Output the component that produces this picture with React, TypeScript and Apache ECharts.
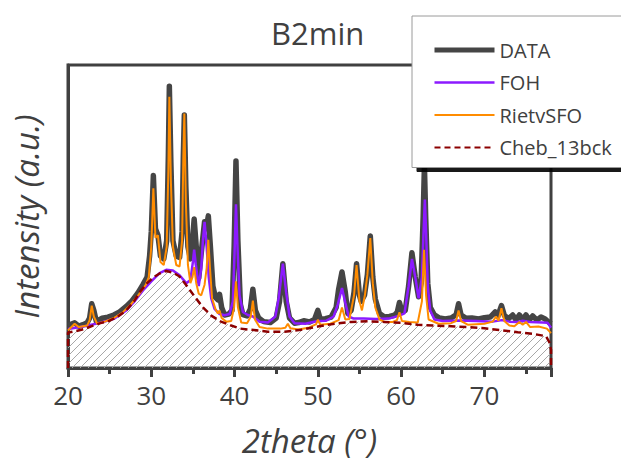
import React, { useEffect, useRef } from "react";
import * as echarts from "echarts";

// ---- Data (2theta in degrees, intensity in arbitrary units 0-100) ----
const dataX = [20.0, 20.5, 20.8, 21.3, 21.8, 22.3, 22.6, 22.85, 23.1, 23.4, 24.1, 24.8, 25.5, 26.2, 27.0, 27.7, 28.4, 29.0, 29.5, 29.8, 30.0, 30.25, 30.5, 30.8, 31.1, 31.5, 31.85, 32.05, 32.17, 32.35, 32.6, 33.0, 33.4, 33.7, 33.85, 33.97, 34.15, 34.4, 34.7, 34.95, 35.15, 35.4, 35.7, 36.0, 36.4, 36.6, 36.85, 37.1, 37.4, 37.7, 38.0, 38.2, 38.45, 38.8, 39.3, 39.7, 39.95, 40.17, 40.4, 40.7, 41.0, 41.5, 41.9, 42.2, 42.5, 42.9, 43.5, 44.3, 45.0, 45.4, 45.8, 46.2, 46.6, 47.2, 47.7, 48.3, 49.0, 49.6, 50.0, 50.3, 50.9, 51.6, 52.2, 52.5, 52.9, 53.3, 53.6, 54.0, 54.35, 54.65, 55.0, 55.2, 55.6, 55.95, 56.3, 56.6, 56.9, 57.4, 58.0, 58.6, 59.2, 59.55, 59.8, 60.1, 60.5, 60.9, 61.3, 61.7, 62.1, 62.4, 62.65, 62.8, 62.95, 63.2, 63.5, 64.0, 64.6, 65.3, 66.0, 66.6, 66.9, 67.2, 67.8, 68.5, 69.3, 70.0, 70.7, 71.3, 71.6, 72.05, 72.4, 72.9, 73.4, 73.8, 74.2, 74.6, 75.0, 75.4, 75.8, 76.3, 76.8, 77.3, 77.7, 78.0];
const dataY = [14.0, 14.6, 14.9, 13.8, 14.3, 14.9, 16.5, 21.2, 19.0, 15.4, 16.4, 16.8, 17.5, 18.5, 20.3, 22.2, 24.8, 27.5, 30.0, 37.0, 45.0, 63.5, 46.0, 43.8, 37.0, 36.0, 42.0, 70.0, 93.0, 68.0, 42.0, 37.0, 36.5, 45.0, 70.0, 83.5, 60.0, 40.0, 36.0, 42.0, 49.2, 40.0, 29.6, 38.0, 48.3, 46.0, 50.2, 40.0, 27.0, 23.3, 22.5, 24.3, 20.0, 17.5, 17.8, 19.0, 40.0, 68.3, 42.0, 21.0, 17.6, 17.2, 19.5, 26.0, 19.0, 16.5, 15.3, 15.0, 16.5, 22.0, 34.4, 22.0, 16.5, 14.8, 15.0, 15.6, 15.2, 16.0, 19.0, 16.0, 16.3, 16.8, 20.0, 26.0, 31.7, 25.0, 18.0, 19.0, 25.0, 34.4, 24.0, 22.0, 24.0, 30.8, 43.6, 30.0, 22.8, 18.0, 16.8, 17.0, 17.4, 18.5, 21.6, 18.5, 19.0, 27.0, 38.0, 30.0, 23.5, 28.0, 50.0, 66.7, 50.0, 28.0, 20.0, 17.5, 16.5, 16.2, 16.5, 17.5, 21.2, 17.5, 16.4, 16.5, 16.2, 16.6, 16.8, 18.5, 17.0, 20.6, 17.3, 16.3, 17.5, 15.9, 17.5, 16.0, 17.5, 15.8, 17.2, 15.8, 16.8, 16.2, 15.2, 14.6];

const fohX = [20.0, 22.0, 24.0, 25.5, 27.0, 28.0, 29.0, 30.0, 31.0, 31.8, 32.6, 33.4, 34.2, 34.7, 35.0, 35.15, 35.35, 35.7, 36.0, 36.2, 36.4, 36.65, 36.9, 37.2, 37.6, 38.2, 38.8, 39.4, 39.8, 40.0, 40.17, 40.35, 40.6, 41.0, 41.6, 42.2, 43.0, 44.0, 44.9, 45.3, 45.8, 46.2, 46.6, 47.2, 48.5, 50.0, 51.0, 51.9, 52.4, 52.9, 53.3, 53.7, 54.3, 55.5, 57.0, 58.5, 59.8, 60.4, 60.9, 61.3, 61.7, 62.1, 62.5, 62.7, 62.85, 63.0, 63.2, 63.5, 64.0, 65.0, 67.0, 69.0, 71.0, 72.1, 73.0, 74.0, 74.6, 75.5, 77.0, 77.6, 78.0];
const fohY = [12.9, 13.8, 15.0, 16.2, 19.0, 22.0, 25.6, 28.6, 31.3, 32.4, 32.2, 30.6, 28.0, 29.0, 35.0, 39.1, 34.0, 27.0, 33.0, 42.0, 48.2, 40.0, 30.0, 23.0, 19.5, 17.8, 17.4, 17.8, 22.0, 38.0, 54.0, 40.0, 24.0, 18.5, 17.5, 17.0, 15.3, 15.0, 17.0, 23.0, 34.4, 25.0, 17.0, 14.8, 14.6, 15.5, 15.6, 17.0, 21.0, 26.4, 21.5, 17.0, 16.3, 16.3, 16.2, 16.3, 17.3, 18.0, 27.0, 36.0, 30.0, 23.0, 30.0, 45.0, 55.6, 45.0, 27.0, 19.0, 16.0, 15.5, 15.7, 15.5, 15.3, 15.8, 15.3, 15.2, 15.6, 15.2, 15.0, 14.9, 13.3];

const sfoX = [20.0, 20.8, 21.3, 22.3, 22.6, 22.85, 23.1, 23.5, 24.5, 25.5, 26.5, 27.5, 28.5, 29.3, 29.7, 30.0, 30.25, 30.5, 30.8, 31.1, 31.5, 31.85, 32.05, 32.17, 32.35, 32.6, 33.0, 33.4, 33.7, 33.85, 33.97, 34.15, 34.4, 34.7, 34.95, 35.15, 35.4, 35.7, 36.0, 36.4, 36.65, 36.85, 37.05, 37.3, 37.7, 38.0, 38.2, 38.45, 39.0, 39.6, 39.95, 40.17, 40.4, 40.8, 41.5, 41.95, 42.2, 42.45, 43.0, 44.0, 45.5, 46.1, 46.4, 46.7, 47.7, 49.0, 49.8, 50.0, 50.3, 51.5, 52.5, 52.9, 53.3, 53.8, 54.35, 54.65, 55.0, 55.3, 55.65, 55.95, 56.3, 56.6, 56.9, 57.4, 58.0, 59.0, 59.5, 59.8, 60.1, 61.0, 62.0, 62.5, 62.75, 63.0, 63.3, 64.5, 66.0, 66.6, 66.9, 67.2, 68.0, 70.0, 71.0, 71.4, 71.7, 72.05, 72.4, 73.0, 73.6, 74.2, 74.6, 75.0, 75.5, 76.5, 77.5, 78.0];
const sfoY = [12.4, 14.6, 13.5, 14.0, 15.8, 20.6, 17.0, 14.6, 15.4, 16.5, 18.2, 20.8, 24.2, 27.3, 30.0, 40.0, 59.3, 43.0, 43.8, 35.0, 34.0, 40.0, 65.0, 89.5, 62.0, 40.0, 34.0, 33.5, 42.0, 70.0, 84.0, 55.0, 34.0, 28.0, 30.0, 33.3, 28.0, 24.5, 24.0, 27.5, 33.0, 42.3, 33.0, 23.0, 19.5, 18.0, 19.0, 16.5, 15.3, 15.5, 20.0, 28.6, 20.0, 15.0, 14.8, 17.0, 22.2, 16.0, 13.5, 13.0, 13.0, 13.3, 14.6, 13.1, 12.7, 13.4, 14.5, 15.9, 14.3, 14.6, 15.8, 20.0, 16.0, 16.2, 24.0, 34.0, 22.0, 19.0, 24.0, 30.8, 42.9, 28.0, 20.0, 16.0, 15.2, 15.2, 15.8, 18.4, 15.5, 15.2, 15.0, 22.0, 39.0, 24.0, 16.0, 14.6, 14.8, 15.5, 19.0, 15.5, 14.3, 14.6, 15.3, 17.0, 15.6, 19.7, 15.5, 14.0, 13.8, 15.2, 14.3, 15.2, 13.5, 13.7, 13.0, 11.5];

const bckX = [20.0, 20.0, 21.0, 22.0, 23.0, 24.0, 25.0, 26.0, 27.0, 28.0, 28.6, 29.5, 30.3, 31.0, 31.8, 32.6, 33.4, 34.3, 35.2, 36.2, 37.2, 38.3, 39.5, 40.7, 42.0, 44.0, 46.0, 48.0, 50.0, 52.0, 54.0, 56.0, 58.0, 60.0, 62.0, 64.0, 66.0, 68.0, 70.0, 72.0, 74.0, 76.0, 77.4, 77.8, 78.0, 78.0];
const bckY = [0, 11.7, 12.2, 12.9, 14.0, 14.9, 15.6, 17.0, 19.0, 22.3, 25.0, 28.0, 30.0, 31.2, 32.0, 31.5, 30.2, 27.0, 23.6, 20.0, 17.3, 15.4, 14.1, 13.0, 12.6, 12.0, 12.0, 12.6, 13.7, 14.6, 15.2, 15.4, 15.2, 14.9, 14.3, 14.0, 13.8, 13.5, 13.1, 12.5, 11.8, 11.2, 10.5, 8.5, 6.0, 0];

const xTicks = [20, 30, 40, 50, 60, 70];
const seriesNames = ["DATA", "FOH", "RietvSFO", "Cheb_13bck"];

const zip = (xs: number[], ys: number[]) => xs.map((x, i) => [x, ys[i]]);

function makeHatch(): HTMLCanvasElement {
  const n = 8;
  const c = document.createElement("canvas");
  c.width = n;
  c.height = n;
  const ctx = c.getContext("2d")!;
  ctx.strokeStyle = "#a8a8a8";
  ctx.lineWidth = 1;
  ctx.beginPath();
  ctx.moveTo(-1, n + 1);
  ctx.lineTo(n + 1, -1);
  ctx.moveTo(-1, 1);
  ctx.lineTo(1, -1);
  ctx.moveTo(n - 1, n + 1);
  ctx.lineTo(n + 1, n - 1);
  ctx.stroke();
  return c;
}

export default function App() {
  const ref = useRef<HTMLDivElement>(null);

  useEffect(() => {
    if (!ref.current) return;
    const chart = echarts.init(ref.current, null, { renderer: "svg" });
    const hatch = makeHatch();
    const font = "'Open Sans', 'Noto Sans', sans-serif";
    const axisColor = "#404040";

    chart.setOption({
      animation: false,
      backgroundColor: "#ffffff",
      title: {
        text: "B2min",
        left: 271,
        top: 17,
        padding: 0,
        textStyle: { fontFamily: font, fontSize: 31, fontWeight: "normal", color: "#404040" },
      },
      legend: {
        orient: "vertical",
        left: 412,
        top: 16,
        padding: [24, 24, 10, 20],
        itemWidth: 60,
        itemHeight: 14,
        itemGap: 12.5,
        backgroundColor: "#ffffff",
        borderColor: "#9a9a9a",
        borderWidth: 1,
        shadowColor: "rgba(0,0,0,0.9)",
        shadowBlur: 0,
        shadowOffsetX: 5,
        shadowOffsetY: 4,
        textStyle: { fontFamily: font, fontSize: 20, color: "#404040" },
        itemStyle: { color: "rgba(0,0,0,0)", borderWidth: 0, opacity: 0 },
        data: [
          { name: seriesNames[0], lineStyle: { width: 5 } },
          { name: seriesNames[1], lineStyle: { width: 2.5 } },
          { name: seriesNames[2], lineStyle: { width: 2 } },
          { name: seriesNames[3], lineStyle: { width: 2, type: [6, 4] } },
        ],
      },
      grid: {
        left: 68,
        right: 70,
        top: 65,
        bottom: 82,
        show: true,
        borderColor: axisColor,
        borderWidth: 3,
        backgroundColor: "transparent",
      },
      xAxis: {
        type: "value",
        min: 20,
        max: 78,
        interval: 10,
        name: "2theta (°)",
        nameLocation: "middle",
        nameGap: 56,
        nameTextStyle: { fontFamily: font, fontSize: 33, fontStyle: "italic", color: "#404040" },
        axisLine: { show: true, lineStyle: { color: axisColor, width: 3 } },
        axisTick: { show: true, inside: false, length: 9, lineStyle: { color: axisColor, width: 3 } },
        minorTick: { show: true, splitNumber: 2, length: 6, lineStyle: { color: axisColor, width: 3 } },
        axisLabel: {
          margin: 14,
          fontFamily: font,
          fontSize: 26,
          color: "#404040",
          formatter: (v: number) => (xTicks.indexOf(v) >= 0 ? String(v) : ""),
        },
        splitLine: { show: false },
      },
      yAxis: {
        type: "value",
        min: 0,
        max: 100,
        name: "Intensity (a.u.)",
        nameLocation: "middle",
        nameGap: 25,
        nameTextStyle: { fontFamily: font, fontSize: 33, fontStyle: "italic", color: "#404040" },
        axisLine: { show: true, lineStyle: { color: axisColor, width: 3 } },
        axisTick: { show: false },
        axisLabel: { show: false },
        splitLine: { show: false },
      },
      series: [
        {
          name: "bck_area",
          type: "line",
          data: zip(bckX, bckY),
          symbol: "none",
          silent: true,
          z: 1,
          lineStyle: { width: 0, color: "transparent" },
          areaStyle: {
            color: { image: hatch, repeat: "repeat", imageWidth: hatch.width, imageHeight: hatch.height } as any,
            opacity: 1,
          },
        },
        {
          name: seriesNames[0],
          type: "line",
          data: zip(dataX, dataY),
          symbol: "none",
          z: 2,
          lineStyle: { color: "#454545", width: 5.5, join: "round" },
          itemStyle: { color: "#454545" },
        },
        {
          name: seriesNames[1],
          type: "line",
          data: zip(fohX, fohY),
          symbol: "none",
          z: 3,
          lineStyle: { color: "#8c1aff", width: 2.5 },
          itemStyle: { color: "#8c1aff" },
        },
        {
          name: seriesNames[2],
          type: "line",
          data: zip(sfoX, sfoY),
          symbol: "none",
          z: 4,
          lineStyle: { color: "#ff8c00", width: 2 },
          itemStyle: { color: "#ff8c00" },
        },
        {
          name: seriesNames[3],
          type: "line",
          data: zip(bckX, bckY),
          symbol: "none",
          z: 5,
          lineStyle: { color: "#8b0000", width: 2.5, type: [7, 4] },
          itemStyle: { color: "#8b0000" },
        },
      ],
    });

    return () => chart.dispose();
  }, []);

  return <div ref={ref} style={{ width: 621, height: 462, position: "absolute", left: 0, top: 0 }} />;
}
